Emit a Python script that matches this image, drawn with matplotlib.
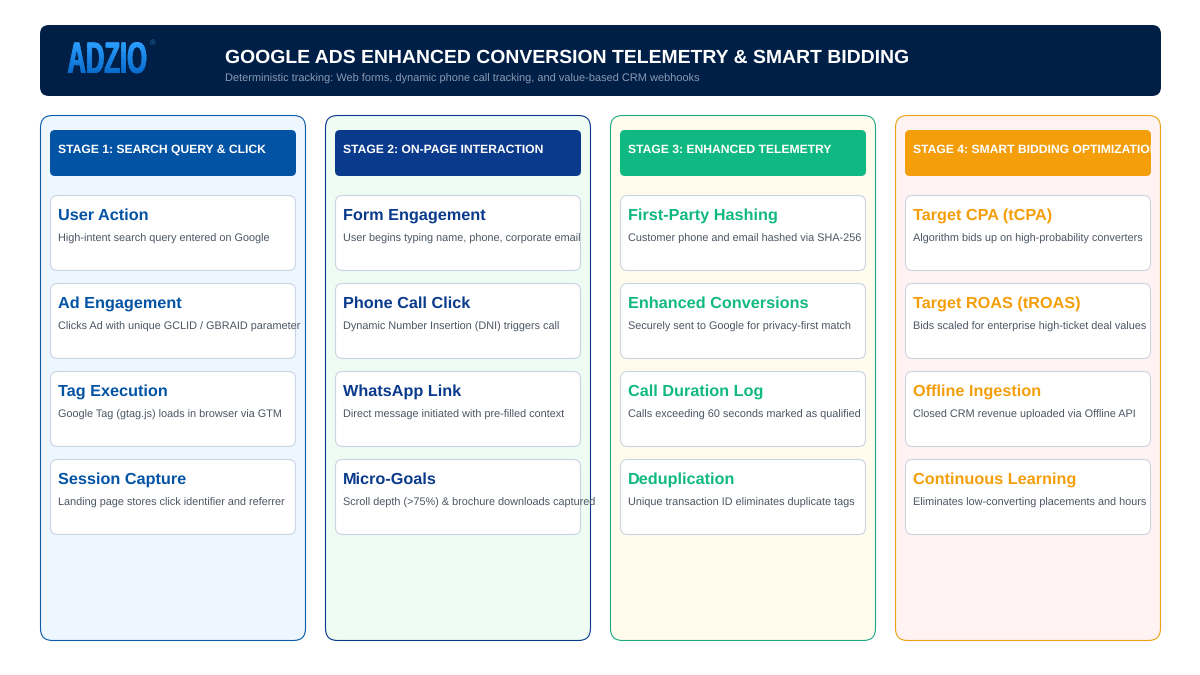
import matplotlib
matplotlib.use("Agg")
import matplotlib.pyplot as plt
from matplotlib.patches import FancyBboxPatch
from matplotlib.patheffects import AbstractPathEffect
from matplotlib.path import Path
from matplotlib.transforms import Affine2D, Bbox, TransformedPath

plt.rcParams['font.family'] = ['Liberation Sans', 'DejaVu Sans']
plt.rcParams['text.hinting'] = 'none'
plt.rcParams['text.hinting_factor'] = 8

title = "GOOGLE ADS ENHANCED CONVERSION TELEMETRY & SMART BIDDING"
subtitle = "Deterministic tracking: Web forms, dynamic phone call tracking, and value-based CRM webhooks"

stages = [
    "STAGE 1: SEARCH QUERY & CLICK",
    "STAGE 2: ON-PAGE INTERACTION",
    "STAGE 3: ENHANCED TELEMETRY",
    "STAGE 4: SMART BIDDING OPTIMIZATION",
]
card_titles = [
    ["User Action", "Ad Engagement", "Tag Execution", "Session Capture"],
    ["Form Engagement", "Phone Call Click", "WhatsApp Link", "Micro-Goals"],
    ["First-Party Hashing", "Enhanced Conversions", "Call Duration Log", "Deduplication"],
    ["Target CPA (tCPA)", "Target ROAS (tROAS)", "Offline Ingestion", "Continuous Learning"],
]
card_texts = [
    ["High-intent search query entered on Google",
     "Clicks Ad with unique GCLID / GBRAID parameter",
     "Google Tag (gtag.js) loads in browser via GTM",
     "Landing page stores click identifier and referrer"],
    ["User begins typing name, phone, corporate email",
     "Dynamic Number Insertion (DNI) triggers call",
     "Direct message initiated with pre-filled context",
     "Scroll depth (>75%) & brochure downloads captured"],
    ["Customer phone and email hashed via SHA-256",
     "Securely sent to Google for privacy-first match",
     "Calls exceeding 60 seconds marked as qualified",
     "Unique transaction ID eliminates duplicate tags"],
    ["Algorithm bids up on high-probability converters",
     "Bids scaled for enterprise high-ticket deal values",
     "Closed CRM revenue uploaded via Offline API",
     "Eliminates low-converting placements and hours"],
]
accent_colors = ["#0353a4", "#0a3a8c", "#10b981", "#f59e0b"]
panel_colors = ["#eef6ff", "#eefcf4", "#fffced", "#fff2f2"]
panel_edges = ["#0a5ca8", "#0a3a8c", "#22a884", "#e8a317"]
logo_top = (0.17, 0.62, 1.0)
logo_bottom = (0.03, 0.42, 0.80)
LOGO_STRETCH = 1.74


class TallGradient(AbstractPathEffect):
    # stretches the glyphs upward and paints a top-to-bottom gradient
    def draw_path(self, renderer, gc, tpath, affine, rgbFace=None):
        aff = Affine2D().scale(1, LOGO_STRETCH) + affine
        ext = tpath.transformed(aff).get_extents()
        for dx in (0, 1):
            gc0 = renderer.new_gc()
            gc0.copy_properties(gc)
            gc0.set_clip_path(TransformedPath(tpath, aff + Affine2D().translate(dx, 0)))
            gc0.set_linewidth(0)
            steps = 24
            for k in range(steps):
                f = k / (steps - 1)
                col = [a + (b - a) * f for a, b in zip(logo_top, logo_bottom)]
                y1 = ext.y1 - ext.height * k / steps
                y0 = y1 - ext.height / steps - 1
                rect = Path([(ext.x0 - 1, y0), (ext.x1 + 3, y0), (ext.x1 + 3, y1), (ext.x0 - 1, y1), (ext.x0 - 1, y0)])
                renderer.draw_path(gc0, rect, Affine2D(), col)
            gc0.restore()


fig = plt.figure(figsize=(12, 6.75), dpi=100)
ax = fig.add_axes([0, 0, 1, 1])
ax.set_xlim(0, 1200)
ax.set_ylim(675, 0)
ax.axis("off")


def box(x, y, w, h, r, face, edge="none", lw=0, z=1):
    p = FancyBboxPatch((x + r, y + r), w - 2 * r, h - 2 * r,
                       boxstyle=f"round,pad={r},rounding_size={r}",
                       facecolor=face, edgecolor=edge, linewidth=lw, zorder=z)
    ax.add_patch(p)
    return p


# top banner
box(40, 25, 1121, 71, 9, "#001f47")
ax.text(67, 73, "ADZIO", color="#1283e8", fontsize=18.4, fontweight="bold",
        va="baseline", ha="left", zorder=3, path_effects=[TallGradient()])
ax.text(149.5, 45, "®", color="#2f6fa8", fontsize=5.5, va="baseline", ha="left", zorder=3)
ax.text(225, 63.3, title, color="white", fontsize=13.96, fontweight="bold", va="baseline", zorder=3)
ax.text(225, 81.5, subtitle, color="#8b9bb4", fontsize=7.92, va="baseline", zorder=3)

# stage columns
for i, stage in enumerate(stages):
    x0 = 40 + i * 285
    box(x0 + 0.5, 115.5, 265, 525, 12, panel_colors[i], panel_edges[i], 0.8)
    box(x0 + 10, 130, 246, 46, 5, accent_colors[i], z=2)
    t = ax.text(x0 + 18, 153, stage, color="white", fontsize=8.73, fontweight="bold",
                va="baseline", zorder=3)
    # long header gets cut at the edge of its box
    t.set_clip_box(Bbox([[x0 + 10, 0], [x0 + 256, 675]]))
    t.set_clip_on(True)

    for j in range(4):
        y0 = 195 + j * 88
        box(x0 + 10.5, y0 + 0.5, 245, 75, 7, "white", "#cbd5e1", 0.8, z=2)
        ax.text(x0 + 18, y0 + 24.7, card_titles[i][j], color=accent_colors[i], fontsize=11.7,
                fontweight="bold", va="baseline", zorder=3)
        ax.text(x0 + 18, y0 + 46.5, card_texts[i][j], color="#4b5563", fontsize=7.85,
                va="baseline", zorder=4)

fig.savefig("out.png", dpi=100)
